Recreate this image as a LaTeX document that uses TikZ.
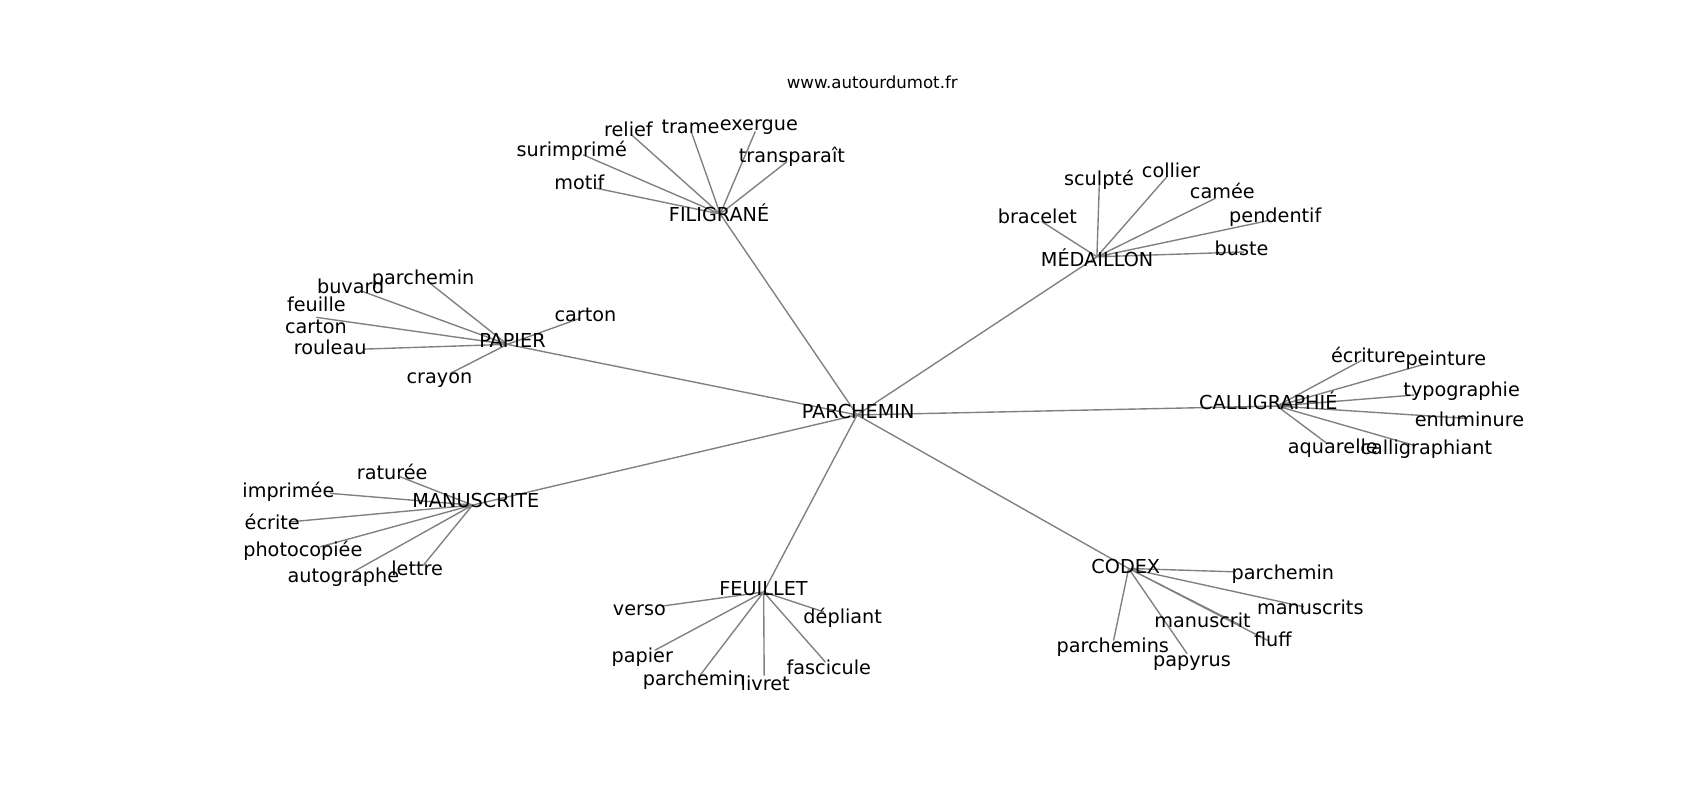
\documentclass[tikz,border=0pt]{standalone}
\usepackage{fontspec}
\setmainfont{DejaVu Sans}
\begin{document}
\begin{tikzpicture}[x=0.027591cm,y=-0.027591cm,line join=round,line cap=round,
	lbl/.style={inner sep=0pt,yshift=-0.075cm,text height=0.76em,text depth=0.24em,font=\fontsize{13.9}{16}\selectfont},
	edge/.style={draw=black!50,line width=1pt}]
	\useasboundingbox (0,0) rectangle (1565,737);
	\node[inner sep=0pt,font=\fontsize{12}{14}\selectfont] (site) at (803,76) {www.autourdumot.fr};
	%%%%%%%%%%%%%%% points of the graph
	\coordinate (h-par) at (789,382);
	\coordinate (h-fil) at (663,197);
	\coordinate (h-med) at (1009.8,236.4);
	\coordinate (h-pap) at (467,317);
	\coordinate (h-cal) at (1175.6,373.8);
	\coordinate (h-man) at (435,465);
	\coordinate (h-feu) at (703,545);
	\coordinate (h-cod) at (1039,523.3);
	%
	\coordinate (e-relief) at (581.6,124.3);
	\coordinate (e-trame) at (636.9,122.8);
	\coordinate (e-exergue) at (695.2,121.3);
	\coordinate (e-surimprime) at (537.1,142.7);
	\coordinate (e-transparait) at (724.4,148.9);
	\coordinate (e-motif) at (549.4,173.4);
	%
	\coordinate (e-sculpte) at (1012,170.3);
	\coordinate (e-collier) at (1074.2,162.7);
	\coordinate (e-camee) at (1118.8,182.6);
	\coordinate (e-bracelet) at (959.2,204.1);
	\coordinate (e-pendentif) at (1168,203);
	\coordinate (e-buste) at (1145,232);
	%
	\coordinate (e-parcheminp) at (396,260.9);
	\coordinate (e-buvard) at (334.6,268.6);
	\coordinate (e-feuille) at (291.6,292.2);
	\coordinate (e-rouleau) at (334.6,321.4);
	\coordinate (e-carton) at (534,293);
	\coordinate (e-crayon) at (414.4,343.8);
	%
	\coordinate (e-ecriture) at (1253.9,331.5);
	\coordinate (e-peinture) at (1313.7,334.6);
	\coordinate (e-typographie) at (1301.4,363.7);
	\coordinate (e-enluminure) at (1350.6,385.2);
	\coordinate (e-calligraphiant) at (1301,409.8);
	\coordinate (e-aquarelle) at (1221.6,408.2);
	%
	\coordinate (e-raturee) at (368.3,438.9);
	\coordinate (e-imprimee) at (303.9,454.2);
	\coordinate (e-ecrite) at (267,480.4);
	\coordinate (e-photocopiee) at (294.7,503.4);
	\coordinate (e-autographe) at (325.3,526.4);
	\coordinate (e-lettre) at (389.8,520.3);
	%
	\coordinate (e-verso) at (609.3,558);
	\coordinate (e-depliant) at (758.1,563.2);
	\coordinate (e-papierf) at (603.1,598.5);
	\coordinate (e-parcheminf) at (644.6,621.5);
	\coordinate (e-livret) at (703.5,621.5);
	\coordinate (e-fascicule) at (759.7,609.3);
	%
	\coordinate (e-parcheminc) at (1135.7,526.4);
	\coordinate (e-manuscrits) at (1200.1,558.6);
	\coordinate (e-manuscrit) at (1141.8,575.5);
	\coordinate (e-fluff) at (1166.4,589.3);
	\coordinate (e-papyrus) at (1092.7,601.6);
	\coordinate (e-parchemins) at (1025.2,589.3);
	%%%%%%%%%%%%%%% edges
	\draw[edge] (h-par) -- (h-fil) (h-par) -- (h-med) (h-par) -- (h-pap) (h-par) -- (h-cal)
	(h-par) -- (h-man) (h-par) -- (h-feu) (h-par) -- (h-cod);
	\draw[edge] (h-fil) -- (e-relief) (h-fil) -- (e-trame) (h-fil) -- (e-exergue)
	(h-fil) -- (e-surimprime) (h-fil) -- (e-transparait) (h-fil) -- (e-motif);
	\draw[edge] (h-med) -- (e-sculpte) (h-med) -- (e-collier) (h-med) -- (e-camee)
	(h-med) -- (e-bracelet) (h-med) -- (e-pendentif) (h-med) -- (e-buste);
	\draw[edge] (h-pap) -- (e-parcheminp) (h-pap) -- (e-buvard) (h-pap) -- (e-feuille)
	(h-pap) -- (e-rouleau) (h-pap) -- (e-carton) (h-pap) -- (e-crayon);
	\draw[edge] (h-cal) -- (e-ecriture) (h-cal) -- (e-peinture) (h-cal) -- (e-typographie)
	(h-cal) -- (e-enluminure) (h-cal) -- (e-calligraphiant) (h-cal) -- (e-aquarelle);
	\draw[edge] (h-man) -- (e-raturee) (h-man) -- (e-imprimee) (h-man) -- (e-ecrite)
	(h-man) -- (e-photocopiee) (h-man) -- (e-autographe) (h-man) -- (e-lettre);
	\draw[edge] (h-feu) -- (e-verso) (h-feu) -- (e-depliant) (h-feu) -- (e-papierf)
	(h-feu) -- (e-parcheminf) (h-feu) -- (e-livret) (h-feu) -- (e-fascicule);
	\draw[edge] (h-cod) -- (e-parcheminc) (h-cod) -- (e-manuscrits) (h-cod) -- (e-manuscrit)
	(h-cod) -- (e-fluff) (h-cod) -- (e-papyrus) (h-cod) -- (e-parchemins);
	%%%%%%%%%%%%%%% labels
	\node[lbl] (parchemin) at (790,379) {PARCHEMIN};
	\node[lbl] (filigrane) at (662,198) {FILIGRANÉ};
	\node[lbl] (relief) at (578.5,120) {relief};
	\node[lbl] (trame) at (635.6,117) {trame};
	\node[lbl] (exergue) at (698.6,114) {exergue};
	\node[lbl] (surimprime) at (526.4,138) {surimprimé};
	\node[lbl] (transparait) at (729,144) {transparaît};
	\node[lbl] (motif) at (533.4,168) {motif};
	%
	\node[lbl] (medaillon) at (1010,239) {MÉDAILLON};
	\node[lbl] (sculpte) at (1011.7,164.5) {sculpté};
	\node[lbl] (collier) at (1078,157) {collier};
	\node[lbl] (camee) at (1125.3,177) {camée};
	\node[lbl] (bracelet) at (955,199.5) {bracelet};
	\node[lbl] (pendentif) at (1174,199) {pendentif};
	\node[lbl] (buste) at (1143,229) {buste};
	%
	\node[lbl] (papier) at (471.8,313.5) {PAPIER};
	\node[lbl] (parcheminp) at (389.5,255.5) {parchemin};
	\node[lbl] (buvard) at (322.9,264) {buvard};
	\node[lbl] (feuille) at (291.3,281) {feuille};
	\node[lbl] (cartonl) at (290.8,301.4) {carton};
	\node[lbl] (rouleau) at (304,320.7) {rouleau};
	\node[lbl] (carton) at (539,290) {carton};
	\node[lbl] (crayon) at (404.5,346.8) {crayon};
	%
	\node[lbl] (calligraphie) at (1167.6,370.5) {CALLIGRAPHIÉ};
	\node[lbl] (ecriture) at (1259.7,328) {écriture};
	\node[lbl] (peinture) at (1331,330) {peinture};
	\node[lbl] (typographie) at (1345.6,359) {typographie};
	\node[lbl] (enluminure) at (1352.8,386.7) {enluminure};
	\node[lbl] (aquarelle) at (1227,411.9) {aquarelle};
	\node[lbl] (calligraphiant) at (1313,412.8) {calligraphiant};
	%
	\node[lbl] (manuscrite) at (438,461.5) {MANUSCRITE};
	\node[lbl] (raturee) at (361.1,435.8) {raturée};
	\node[lbl] (imprimee) at (265.5,451.8) {imprimée};
	\node[lbl] (ecrite) at (250.6,481) {écrite};
	\node[lbl] (photocopiee) at (278.8,506.4) {photocopiée};
	\node[lbl] (autographe) at (316.1,530.4) {autographe};
	\node[lbl] (lettre) at (384,524.2) {lettre};
	%
	\node[lbl] (feuillet) at (702.9,542) {FEUILLET};
	\node[lbl] (verso) at (588.6,561) {verso};
	\node[lbl] (depliant) at (775.8,567.8) {dépliant};
	\node[lbl] (papierf) at (591.3,604) {papier};
	\node[lbl] (parcheminf) at (638.9,624.6) {parchemin};
	\node[lbl] (livret) at (704.4,629.2) {livret};
	\node[lbl] (fascicule) at (763,614.5) {fascicule};
	%
	\node[lbl] (codex) at (1036.4,522) {CODEX};
	\node[lbl] (parcheminc) at (1181,527.3) {parchemin};
	\node[lbl] (manuscrits) at (1206.3,559.5) {manuscrits};
	\node[lbl] (manuscrit) at (1107,571.8) {manuscrit};
	\node[lbl] (fluff) at (1171.7,588.7) {fluff};
	\node[lbl] (parchemins) at (1024.4,594.8) {parchemins};
	\node[lbl] (papyrus) at (1097.3,607.7) {papyrus};
\end{tikzpicture}
\end{document}
